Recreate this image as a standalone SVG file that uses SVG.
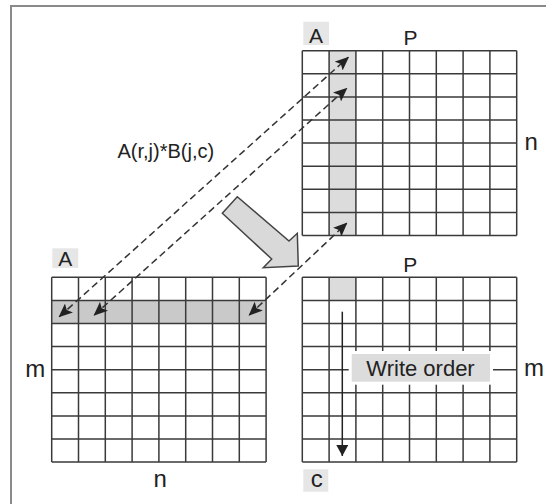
<svg xmlns="http://www.w3.org/2000/svg" xmlns:xlink="http://www.w3.org/1999/xlink" width="546" height="504" viewBox="0 0 546 504">
  <style>
    .grid { fill: none; stroke: #3a3a3a; stroke-width: 1.5; }
    .lbl { font-family: "Liberation Sans", Arial, sans-serif; fill: #222; text-anchor: middle; }
    .up { font-size: 21px; }
    .lo { font-size: 24px; }
    .tag { fill: #e6e6e6; }
    .dash { fill: none; stroke: #333; stroke-width: 1.5; stroke-dasharray: 7 4; marker-start: url(#ah); marker-end: url(#ah); }
  </style>
  <defs>
    <marker id="ah" viewBox="0 0 14 12" refX="13" refY="6" markerWidth="14" markerHeight="12" markerUnits="userSpaceOnUse" orient="auto-start-reverse">
      <path d="M0,0 L14,6 L0,12 L3,6 z" fill="#222"/>
    </marker>
    <marker id="ah2" viewBox="0 0 12 12" refX="11" refY="6" markerWidth="12" markerHeight="12" markerUnits="userSpaceOnUse" orient="auto">
      <path d="M0,0 L11,6 L0,12 z" fill="#222"/>
    </marker>
    <path id="gridlines" class="grid" d="M0,0V184.8M26.8,0V184.8M53.6,0V184.8M80.4,0V184.8M107.2,0V184.8M134,0V184.8M160.8,0V184.8M187.6,0V184.8M214.4,0V184.8M0,0H214.4M0,23.1H214.4M0,46.2H214.4M0,69.3H214.4M0,92.4H214.4M0,115.5H214.4M0,138.6H214.4M0,161.7H214.4M0,184.8H214.4"/>
  </defs>

  <rect x="0" y="0" width="546" height="504" fill="#ffffff"/>

  <g id="frame" stroke="#8a8a8a" stroke-width="2" fill="none">
    <path d="M11,504V6H546"/>
  </g>

  <g id="matrix-b">
    <rect x="329.1" y="50.7" width="26.8" height="184.8" fill="#dcdcdc"/>
    <use xlink:href="#gridlines" href="#gridlines" transform="translate(302.3,50.7)"/>
    <rect class="tag" x="303.3" y="21.7" width="25.7" height="23.3"/>
    <text class="lbl up" x="316" y="42.5">A</text>
    <text class="lbl up" x="410.5" y="45">P</text>
    <text class="lbl lo" x="531.3" y="150">n</text>
  </g>

  <g id="matrix-a">
    <rect x="51.7" y="300.4" width="214.4" height="23.1" fill="#c9c9c9"/>
    <use xlink:href="#gridlines" href="#gridlines" transform="translate(51.7,277.3)"/>
    <rect class="tag" x="52.3" y="248.3" width="26" height="19.6"/>
    <text class="lbl up" x="65.3" y="265.7">A</text>
    <text class="lbl lo" x="35.3" y="376.7">m</text>
    <text class="lbl lo" x="160.3" y="487.3">n</text>
  </g>

  <g id="matrix-c">
    <rect x="329.1" y="277.3" width="26.8" height="23.1" fill="#dcdcdc"/>
    <use xlink:href="#gridlines" href="#gridlines" transform="translate(302.3,277.3)"/>
    <text class="lbl up" x="410.2" y="271.7">P</text>
    <text class="lbl lo" x="534" y="376">m</text>
    <rect class="tag" x="303.3" y="469.3" width="25" height="22.4"/>
    <text class="lbl lo" x="316.8" y="487.3">c</text>
  </g>

  <g id="formula">
    <text class="lbl" x="165.8" y="158.3" font-size="20">A(r,j)*B(j,c)</text>
  </g>

  <g id="connectors">
    <path class="dash" d="M59.3,316.7L348.3,57.3"/>
    <path class="dash" d="M94.3,315L346.7,88.3"/>
    <path class="dash" d="M249.3,315L346.7,223.3"/>
    <path d="M222.3,213.3L237.3,196.7L289,241L297.3,233.3L298.3,266L263.3,267.7L271.7,259Z" fill="#d9d9d9" stroke="#444" stroke-width="1.5" stroke-linejoin="miter"/>
    <path d="M342.3,311.7V456" fill="none" stroke="#222" stroke-width="1.5" marker-end="url(#ah2)"/>
  </g>

  <g id="write-order">
    <rect x="348.7" y="351" width="144.3" height="33.7" fill="#ffffff"/>
    <rect x="351.7" y="354" width="138.3" height="27.7" fill="#dcdcdc"/>
    <text class="lbl" x="420.5" y="375.7" font-size="22">Write order</text>
  </g>
</svg>
